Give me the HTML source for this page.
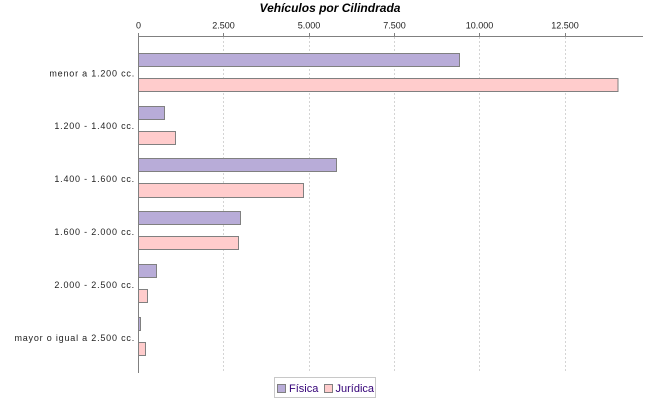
<!DOCTYPE html>
<html>
<head>
<meta charset="utf-8">
<style>
html,body{margin:0;padding:0;background:#fff;}
svg{display:block;}
</style>
</head>
<body>
<svg width="650" height="400" viewBox="0 0 650 400" xmlns="http://www.w3.org/2000/svg">
<rect x="0" y="0" width="650" height="400" fill="#ffffff"/>
<text x="330" y="12" font-family="Liberation Sans, sans-serif" font-size="12" font-weight="bold" font-style="italic" text-anchor="middle" fill="#000">Vehículos por Cilindrada</text>

<!-- gridlines -->
<g stroke="#d4d4d4" stroke-width="1" stroke-dasharray="2,2">
<line x1="223.5" y1="37" x2="223.5" y2="373"/>
<line x1="309.5" y1="37" x2="309.5" y2="373"/>
<line x1="394.5" y1="37" x2="394.5" y2="373"/>
<line x1="479.5" y1="37" x2="479.5" y2="373"/>
<line x1="565.5" y1="37" x2="565.5" y2="373"/>
</g>

<!-- tick labels -->
<g font-family="Liberation Sans, sans-serif" font-size="9" fill="#222" text-anchor="middle">
<text x="138.5" y="28.5">0</text>
<text x="223.5" y="28.5">2.500</text>
<text x="309" y="28.5">5.000</text>
<text x="394.5" y="28.5">7.500</text>
<text x="479.5" y="28.5">10.000</text>
<text x="565" y="28.5">12.500</text>
</g>
<g stroke="#808080" stroke-width="1">
<line x1="138.5" y1="33" x2="138.5" y2="36"/>
<line x1="223.5" y1="33" x2="223.5" y2="36"/>
<line x1="309.5" y1="33" x2="309.5" y2="36"/>
<line x1="394.5" y1="33" x2="394.5" y2="36"/>
<line x1="479.5" y1="33" x2="479.5" y2="36"/>
<line x1="565.5" y1="33" x2="565.5" y2="36"/>
</g>

<!-- bars -->
<g stroke="#808080" stroke-width="1">
<rect x="138.5" y="53.5" width="321" height="13" fill="#b8acd8"/>
<rect x="138.5" y="78.5" width="479.5" height="13" fill="#ffcccc"/>

<rect x="138.5" y="106.5" width="26" height="13" fill="#b8acd8"/>
<rect x="138.5" y="131.5" width="37" height="13" fill="#ffcccc"/>

<rect x="138.5" y="158.5" width="198" height="13" fill="#b8acd8"/>
<rect x="138.5" y="183.5" width="165" height="14" fill="#ffcccc"/>

<rect x="138.5" y="211.5" width="102" height="13" fill="#b8acd8"/>
<rect x="138.5" y="236.5" width="100" height="13" fill="#ffcccc"/>

<rect x="138.5" y="264.5" width="18" height="13" fill="#b8acd8"/>
<rect x="138.5" y="289.5" width="9" height="13" fill="#ffcccc"/>

<rect x="138.5" y="317.5" width="2" height="13" fill="#b8acd8"/>
<rect x="138.5" y="342.5" width="7" height="13" fill="#ffcccc"/>
</g>

<!-- axes -->
<g stroke="#808080" stroke-width="1">
<line x1="138" y1="36.5" x2="643" y2="36.5"/>
<line x1="138.5" y1="36" x2="138.5" y2="373"/>
</g>

<!-- category labels -->
<g font-family="Liberation Sans, sans-serif" font-size="9" fill="#222" text-anchor="end" letter-spacing="0.8">
<text x="135" y="76.5">menor a 1.200 cc.</text>
<text x="135" y="129">1.200 - 1.400 cc.</text>
<text x="135" y="182">1.400 - 1.600 cc.</text>
<text x="135" y="235">1.600 - 2.000 cc.</text>
<text x="135" y="288">2.000 - 2.500 cc.</text>
<text x="135" y="341">mayor o igual a 2.500 cc.</text>
</g>

<!-- legend -->
<rect x="274.5" y="377.5" width="101" height="20" fill="#fff" stroke="#c8c8c8" stroke-width="1"/>
<rect x="277.5" y="384.5" width="8" height="8" fill="#b8acd8" stroke="#808080" stroke-width="1"/>
<text x="289" y="392" font-family="Liberation Sans, sans-serif" font-size="11" fill="#330077">Física</text>
<rect x="324.5" y="384.5" width="8" height="8" fill="#ffcccc" stroke="#808080" stroke-width="1"/>
<text x="335.5" y="392" font-family="Liberation Sans, sans-serif" font-size="11" fill="#330077">Jurídica</text>
</svg>
</body>
</html>
